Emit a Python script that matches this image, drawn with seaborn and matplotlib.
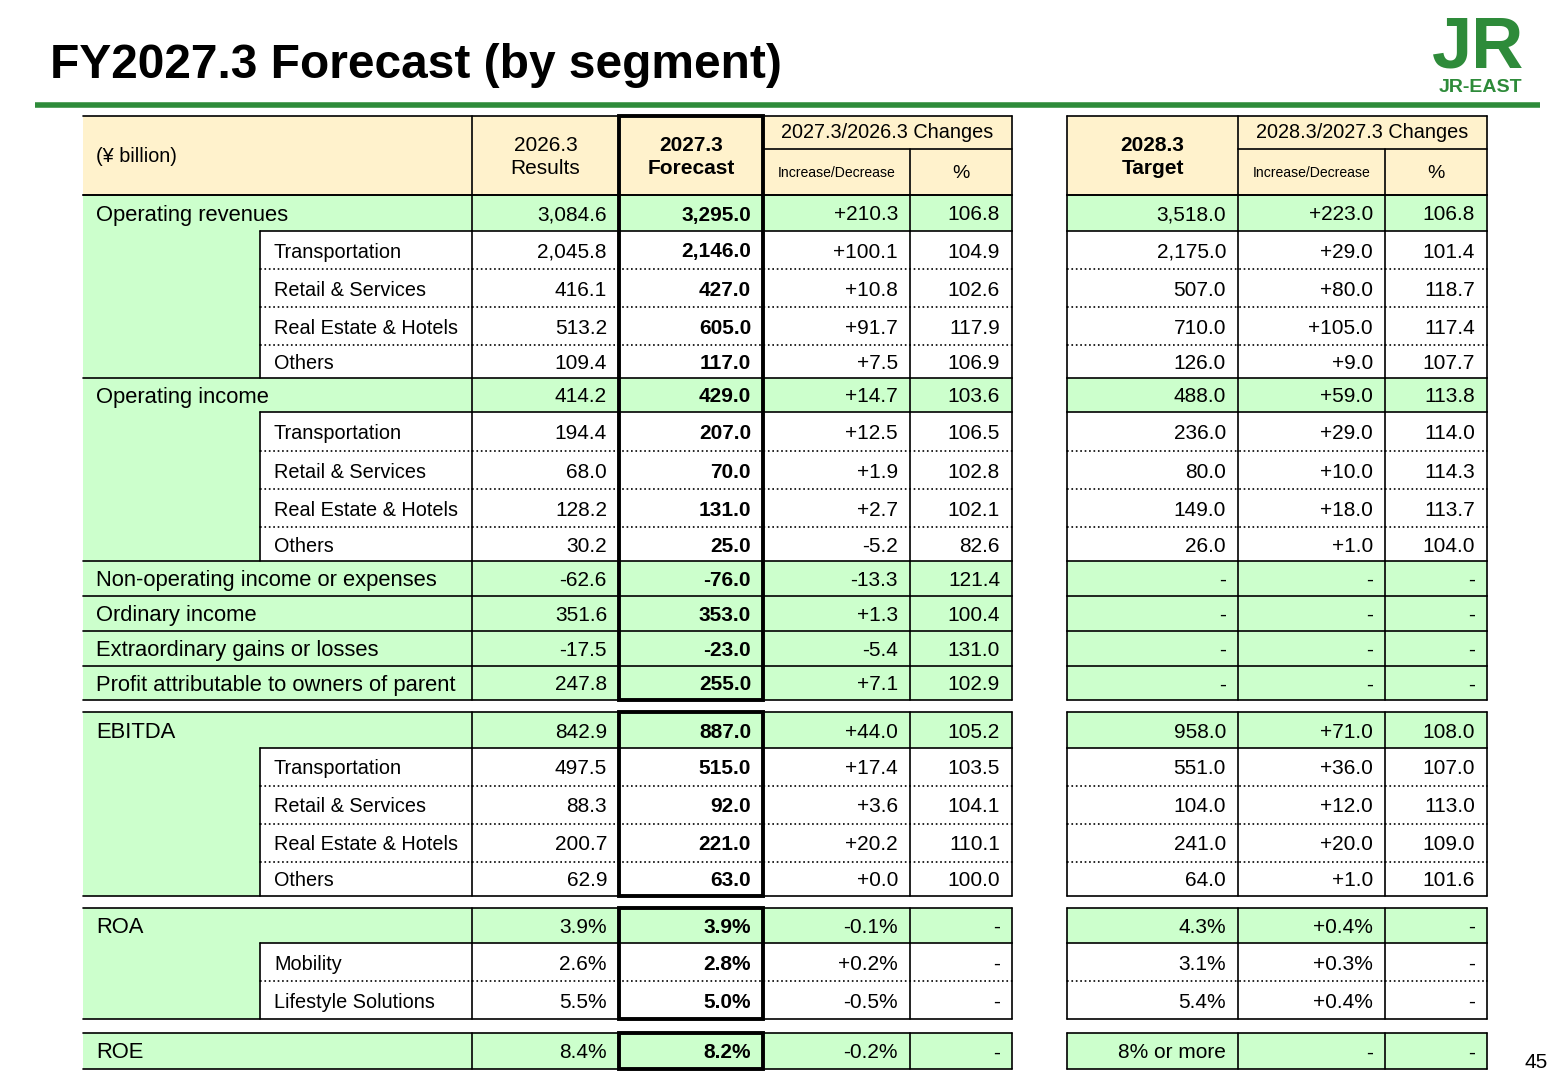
import matplotlib
matplotlib.use("Agg")
import matplotlib.pyplot as plt
import seaborn as sns
from matplotlib.patches import Rectangle

sns.set_theme(style="white")
plt.rcParams['font.family'] = ['Liberation Sans', 'DejaVu Sans']
plt.rcParams['text.color'] = 'black'

# ---- data ----
labels = ["Operating revenues", "Transportation", "Retail & Services", "Real Estate & Hotels", "Others",
          "Operating income", "Transportation", "Retail & Services", "Real Estate & Hotels", "Others",
          "Non-operating income or expenses", "Ordinary income", "Extraordinary gains or losses",
          "Profit attributable to owners of parent",
          "EBITDA", "Transportation", "Retail & Services", "Real Estate & Hotels", "Others",
          "ROA", "Mobility", "Lifestyle Solutions",
          "ROE"]
kinds = ["m", "s", "s", "s", "s", "m", "s", "s", "s", "s", "m", "m", "m", "m",
         "m", "s", "s", "s", "s", "m", "s", "s", "m"]
section = [0]*14 + [1]*5 + [2]*3 + [3]
results_2026 = ["3,084.6", "2,045.8", "416.1", "513.2", "109.4", "414.2", "194.4", "68.0", "128.2", "30.2",
                "-62.6", "351.6", "-17.5", "247.8", "842.9", "497.5", "88.3", "200.7", "62.9",
                "3.9%", "2.6%", "5.5%", "8.4%"]
forecast_2027 = ["3,295.0", "2,146.0", "427.0", "605.0", "117.0", "429.0", "207.0", "70.0", "131.0", "25.0",
                 "-76.0", "353.0", "-23.0", "255.0", "887.0", "515.0", "92.0", "221.0", "63.0",
                 "3.9%", "2.8%", "5.0%", "8.2%"]
chg_2027 = ["+210.3", "+100.1", "+10.8", "+91.7", "+7.5", "+14.7", "+12.5", "+1.9", "+2.7", "-5.2",
            "-13.3", "+1.3", "-5.4", "+7.1", "+44.0", "+17.4", "+3.6", "+20.2", "+0.0",
            "-0.1%", "+0.2%", "-0.5%", "-0.2%"]
pct_2027 = ["106.8", "104.9", "102.6", "117.9", "106.9", "103.6", "106.5", "102.8", "102.1", "82.6",
            "121.4", "100.4", "131.0", "102.9", "105.2", "103.5", "104.1", "110.1", "100.0",
            "-", "-", "-", "-"]
target_2028 = ["3,518.0", "2,175.0", "507.0", "710.0", "126.0", "488.0", "236.0", "80.0", "149.0", "26.0",
               "-", "-", "-", "-", "958.0", "551.0", "104.0", "241.0", "64.0",
               "4.3%", "3.1%", "5.4%", "8% or more"]
chg_2028 = ["+223.0", "+29.0", "+80.0", "+105.0", "+9.0", "+59.0", "+29.0", "+10.0", "+18.0", "+1.0",
            "-", "-", "-", "-", "+71.0", "+36.0", "+12.0", "+20.0", "+1.0",
            "+0.4%", "+0.3%", "+0.4%", "-"]
pct_2028 = ["106.8", "101.4", "118.7", "117.4", "107.7", "113.8", "114.0", "114.3", "113.7", "104.0",
            "-", "-", "-", "-", "108.0", "107.0", "113.0", "109.0", "101.6",
            "-", "-", "-", "-"]

# ---- layout (pixel coords) ----
row_edges = [195, 231, 269, 307, 345, 378, 412, 451, 489, 527, 561, 596, 631, 666, 700,
             712, 748, 786, 824, 862, 896, 908, 943, 981, 1019, 1033, 1069]
tops, bots = [], []
i = 0
for r in range(len(labels)):
    tops.append(row_edges[i]); bots.append(row_edges[i + 1])
    i += 1
    if r + 1 < len(labels) and section[r + 1] != section[r]:
        i += 1
XL, XS, X1, X2, X3, X4, X5 = 83, 260, 472, 619, 763, 910, 1012
Y1, Y2, Y3 = 1067, 1238, 1385
XR = 1487
GREEN = "#CCFFCC"
CREAM = "#FFF2CC"
FS = 14.3

fig = plt.figure(figsize=(15.6, 10.8), dpi=100)
ax = fig.add_axes([0, 0, 1, 1])
ax.set_xlim(0, 1560); ax.set_ylim(1080, 0); ax.axis("off")

def rect(x0, y0, x1, y1, c):
    ax.add_patch(Rectangle((x0, y0), x1 - x0, y1 - y0, facecolor=c, edgecolor="none", zorder=1))

def hline(y, x0, x1, ls="-", lw=1.2):
    ax.plot([x0, x1], [y, y], color="black", lw=lw, ls=ls, zorder=3)

def vline(x, y0, y1, lw=1.2):
    ax.plot([x, x], [y0, y1], color="black", lw=lw, zorder=3)

# title
ax.text(50, 65, "FY2027.3 Forecast (by segment)", fontsize=34.5, fontweight="bold", va="center", ha="left")
ax.plot([35, 1540], [105, 105], color="#2E8B3A", lw=4, solid_capstyle="butt")
ax.text(1478, 48, "JR", fontsize=52, fontweight="bold", color="#2E8B3A", ha="center", va="center")
ax.text(1480, 88, "JR-EAST", fontsize=14, fontweight="bold", color="#2E8B3A", ha="center", va="center")
ax.text(1548, 1062, "45", fontsize=15, ha="right", va="center")

# header
HT, HM, HB = 116, 149, 195
rect(XL, HT, X5, HB, CREAM); rect(Y1, HT, XR, HB, CREAM)
for a, b in [(XL, X5), (Y1, XR)]:
    hline(HT, a, b); hline(HB, a, b)
hline(HM, X3, X5); hline(HM, Y2, XR)
for x in [X1, X2, X3, X5, Y1, Y2, XR]:
    vline(x, HT, HB)
vline(X4, HM, HB); vline(Y3, HM, HB)
ax.text(96, 157, "(¥ billion)", fontsize=14.2, va="center")
ax.text((X1 + X2) / 2, 157, "2026.3\nResults", fontsize=15, ha="center", va="center", linespacing=1.3)
ax.text((X2 + X3) / 2, 157, "2027.3\nForecast", fontsize=15, ha="center", va="center", fontweight="bold", linespacing=1.3)
ax.text((X3 + X5) / 2, 133, "2027.3/2026.3 Changes", fontsize=14.3, ha="center", va="center")
ax.text((X3 + X4) / 2, 173, "Increase/Decrease", fontsize=10.1, ha="center", va="center")
ax.text((X4 + X5) / 2, 174, "%", fontsize=14, ha="center", va="center")
ax.text((Y1 + Y2) / 2, 157, "2028.3\nTarget", fontsize=15, ha="center", va="center", fontweight="bold", linespacing=1.3)
ax.text((Y2 + XR) / 2, 133, "2028.3/2027.3 Changes", fontsize=14.3, ha="center", va="center")
ax.text((Y2 + Y3) / 2, 173, "Increase/Decrease", fontsize=10.1, ha="center", va="center")
ax.text((Y3 + XR) / 2, 174, "%", fontsize=14, ha="center", va="center")

# rows
cols = [(X1, X2, results_2026, False), (X2, X3, forecast_2027, True), (X3, X4, chg_2027, False),
        (X4, X5, pct_2027, False), (Y1, Y2, target_2028, False), (Y2, Y3, chg_2028, False),
        (Y3, XR, pct_2028, False)]
for r, lab in enumerate(labels):
    t, b = tops[r], bots[r]
    cy = (t + b) / 2 + 2
    if kinds[r] == "m":
        rect(XL, t, X5, b, GREEN); rect(Y1, t, XR, b, GREEN)
        hline(t, XL, X5); hline(t, Y1, XR)
        ax.text(96, cy, lab, fontsize=15.8, va="center")
    else:
        rect(XL, t, XS, b, GREEN)
        ls = "-" if kinds[r - 1] == "m" else ":"
        hline(t, XS, X5, ls=ls); hline(t, Y1, XR, ls=ls)
        vline(XS, t, b)
        ax.text(274, cy, lab, fontsize=FS, va="center")
    for x0, x1, vals, bold in cols:
        ax.text(x1 - 12, cy, vals[r], fontsize=15, ha="right", va="center",
                fontweight="bold" if bold else "normal", zorder=4)
    for x in [X1, X2, X3, X4, X5, Y1, Y2, Y3, XR]:
        vline(x, t, b)
    if r + 1 == len(labels) or section[r + 1] != section[r]:
        hline(b, XL, X5); hline(b, Y1, XR)

# thick box around forecast column
for s in range(4):
    rs = [r for r in range(len(labels)) if section[r] == s]
    t = HT if s == 0 else tops[rs[0]]
    b = bots[rs[-1]]
    ax.add_patch(Rectangle((X2, t), X3 - X2, b - t, facecolor="none", edgecolor="black", lw=2.8, zorder=5))

fig.savefig("out.png", dpi=100)
